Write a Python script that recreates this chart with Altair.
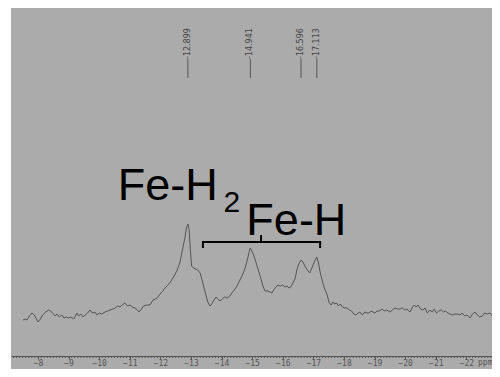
import altair as alt
import pandas as pd
import numpy as np

# --- spectrum (chemical shift in ppm, intensity in arbitrary units) ---
PPM = [
    -7.51, -7.58, -7.64, -7.72, -7.80, -7.88, -7.95, -8.00, -8.08, -8.15,
    -8.25, -8.35, -8.42, -8.50, -8.56, -8.62, -8.70, -8.78, -8.85, -8.92,
    -9.00, -9.08, -9.17, -9.22, -9.27, -9.33, -9.40, -9.48, -9.54, -9.62,
    -9.70, -9.78, -9.86, -9.92, -10.00, -10.08, -10.19, -10.28, -10.35, -10.45,
    -10.52, -10.60, -10.68, -10.75, -10.84, -10.92, -11.01, -11.08, -11.17, -11.25,
    -11.30, -11.36, -11.45, -11.55, -11.66, -11.76, -11.89, -11.99, -12.08, -12.15,
    -12.25, -12.35, -12.45, -12.55, -12.64, -12.72, -12.80, -12.85, -12.90, -12.94,
    -12.98, -13.02, -13.08, -13.15, -13.22, -13.30, -13.38, -13.46, -13.55, -13.62,
    -13.68, -13.75, -13.82, -13.88, -13.95, -14.02, -14.10, -14.18, -14.27, -14.36,
    -14.44, -14.52, -14.60, -14.68, -14.76, -14.84, -14.90, -14.94, -14.99, -15.06,
    -15.12, -15.20, -15.28, -15.35, -15.42, -15.50, -15.58, -15.65, -15.70, -15.78,
    -15.84, -15.92, -16.00, -16.07, -16.14, -16.20, -16.26, -16.33, -16.40, -16.46,
    -16.52, -16.60, -16.66, -16.72, -16.80, -16.88, -16.95, -17.03, -17.11, -17.16,
    -17.22, -17.30, -17.38, -17.45, -17.52, -17.58, -17.64, -17.70, -17.76, -17.82,
    -17.88, -17.95, -18.03, -18.10, -18.18, -18.25, -18.32, -18.39, -18.46, -18.52,
    -18.60, -18.68, -18.75, -18.82, -18.88, -18.95, -19.01, -19.08, -19.15, -19.24,
    -19.32, -19.40, -19.50, -19.58, -19.67, -19.75, -19.83, -19.91, -19.99, -20.06,
    -20.12, -20.16, -20.24, -20.30, -20.36, -20.42, -20.50, -20.58, -20.65, -20.72,
    -20.81, -20.88, -20.95, -21.02, -21.10, -21.18, -21.25, -21.32, -21.40, -21.46,
    -21.55, -21.62, -21.70, -21.79, -21.86, -21.95, -22.03, -22.12, -22.20, -22.28,
    -22.36, -22.44, -22.52, -22.60, -22.68, -22.77, -22.85, -22.93, -23.00, -23.10,
]
INTENSITY = [
    38, 39, 38, 42, 45, 43, 39, 36, 39, 43,
    46, 48, 47, 44, 42, 44, 41, 43, 40, 41,
    40, 41, 39, 42, 45, 42, 44, 41, 43, 45,
    48, 45, 46, 43, 45, 44, 46, 47, 48, 49,
    50, 52, 51, 53, 55, 52, 53, 51, 50, 48,
    46, 48, 52, 53, 53, 58, 60, 64, 67, 70,
    73, 77, 82, 88, 96, 108, 120, 130, 134, 128,
    108, 92, 90, 89, 88, 85, 76, 66, 56, 52,
    54, 58, 61, 59, 57, 59, 61, 60, 62, 66,
    69, 73, 78, 83, 89, 98, 106, 110, 107, 102,
    96, 88, 80, 72, 67, 67, 66, 65, 68, 71,
    73, 72, 73, 71, 72, 70, 71, 75, 79, 88,
    94, 98, 96, 92, 88, 85, 90, 96, 101, 96,
    86, 76, 68, 63, 55, 53, 56, 54, 55, 52,
    54, 51, 50, 50, 48, 47, 44, 43, 45, 46,
    43, 46, 45, 45, 47, 46, 45, 47, 47, 49,
    47, 48, 46, 48, 50, 49, 49, 50, 48, 49,
    47, 46, 51, 53, 51, 53, 49, 48, 50, 45,
    48, 46, 49, 45, 47, 48, 46, 47, 45, 44,
    43, 44, 44, 43, 45, 42, 43, 40, 44, 46,
    43, 41, 42, 45, 44, 45, 42, 44, 45, 46,
]

MAJOR_TICKS = [-8, -9, -10, -11, -12, -13, -14, -15, -16, -17, -18, -19, -20, -21, -22]
PEAK_PPM = [-12.899, -14.941, -16.596, -17.113]
PEAK_LABELS = ["-12.899", "-14.941", "-16.596", "-17.113"]

# annotations
LABEL_TEXT = ["Fe-H", "2", "Fe-H"]
LABEL_PPM = [-10.61, -14.06, -14.81]
LABEL_Y = [158, 146, 123]
LABEL_SIZE = [45, 30, 45]

BRACKET_PPM = [-13.39, -13.39, -17.22, -17.22]
BRACKET_Y = [110, 116, 116, 110]
BRACKET_MID_PPM = [-15.29]
BRACKET_MID_Y = [116]
BRACKET_MID_Y2 = [123]

W, H = 481, 361
xs = alt.Scale(domain=[-7.118, -22.837], nice=False, zero=False)
ys = alt.Scale(domain=[-11, 350], nice=False, zero=False)

# minor axis ticks every 0.1 ppm (decoration only)
minor = [round(v, 1) for v in np.arange(-7.2, -22.85, -0.1)]

spec = pd.DataFrame({"ppm": PPM, "intensity": INTENSITY})

x_axis = alt.Axis(
    values=MAJOR_TICKS,
    format="d",
    tickSize=3,
    offset=-13,
    title=None,
    grid=False,
    domainColor="#555",
    tickColor="#555",
    labelColor="#555",
    labelFont="DejaVu Sans Mono",
    labelFontSize=8,
    labelPadding=0,
    labelOverlap=False,
    labelFlush=False,
)


def X(field="ppm"):
    return alt.X(f"{field}:Q", scale=xs, axis=x_axis)


def Y(field):
    return alt.Y(f"{field}:Q", scale=ys, axis=None)


line = alt.Chart(spec).mark_line(color="#555555", strokeWidth=1, clip=True).encode(
    x=X(), y=Y("intensity"),
)

minor_ticks = alt.Chart(pd.DataFrame({"ppm": minor, "y0": [2] * len(minor), "y1": [0] * len(minor)})).mark_rule(
    color="#555", strokeWidth=1
).encode(x=X(), y=Y("y0"), y2="y1:Q")

ppm_unit = alt.Chart(pd.DataFrame({"ppm": [-22.38], "y": [-5], "t": ["ppm"]})).mark_text(
    align="left", baseline="middle", font="DejaVu Sans Mono", fontSize=8, color="#555"
).encode(x=X(), y=Y("y"), text="t:N")

peaks = pd.DataFrame({"ppm": PEAK_PPM, "label": PEAK_LABELS, "y0": [280] * 4, "y1": [299] * 4})
peak_rules = alt.Chart(peaks).mark_rule(color="#555", strokeWidth=1).encode(
    x=X(), y=Y("y0"), y2="y1:Q"
)
peak_text = alt.Chart(peaks).mark_text(
    angle=270, align="left", baseline="middle", font="DejaVu Sans", fontSize=8, color="#444"
).encode(x=X(), y=Y("y1"), text="label:N")

labels = pd.DataFrame({"t": LABEL_TEXT, "ppm": LABEL_PPM, "y": LABEL_Y, "s": LABEL_SIZE})
label_marks = alt.Chart(labels).mark_text(
    align="left", baseline="alphabetic", font="Liberation Sans", color="black"
).encode(
    x=X(),
    y=Y("y"),
    text="t:N",
    size=alt.Size("s:Q", scale=None, legend=None),
)

bracket = alt.Chart(pd.DataFrame({"ppm": BRACKET_PPM, "y": BRACKET_Y, "o": [0, 1, 2, 3]})).mark_line(
    color="black", strokeWidth=2
).encode(x=X(), y=Y("y"), order="o:Q")

bracket_mid = alt.Chart(pd.DataFrame({"ppm": BRACKET_MID_PPM, "y": BRACKET_MID_Y, "y2": BRACKET_MID_Y2})).mark_rule(
    color="black", strokeWidth=2
).encode(x=X(), y=Y("y"), y2="y2:Q")

chart = alt.layer(
    line, minor_ticks, ppm_unit, peak_rules, peak_text, bracket, bracket_mid, label_marks
).properties(
    width=W, height=H,
    autosize=alt.AutoSizeParams(type="none"),
    padding={"left": 3, "top": 0, "right": 0, "bottom": 0},
    background="white",
).configure_view(fill="#ababab", strokeWidth=0)

chart.save("out.html", embed_options={"renderer": "svg", "actions": False})
